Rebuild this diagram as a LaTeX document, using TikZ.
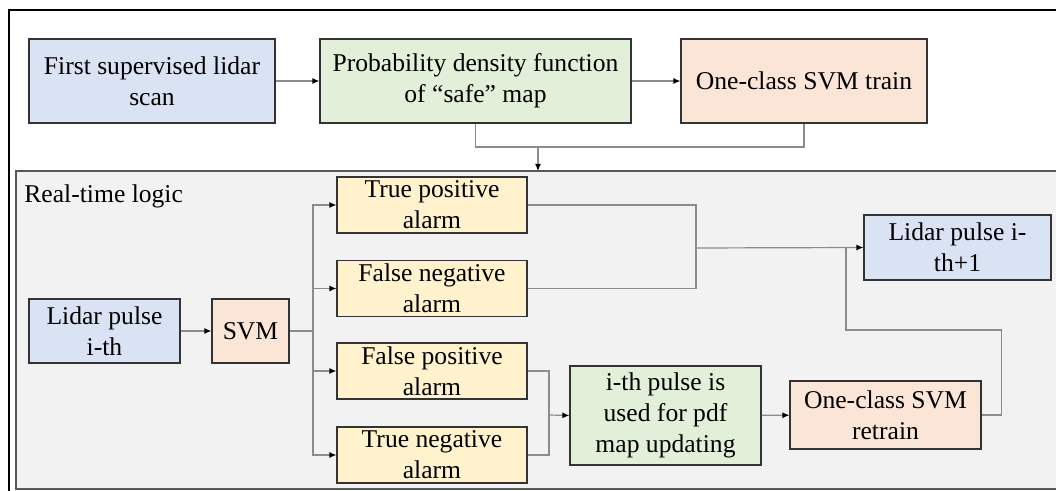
\documentclass[tikz,border=0pt]{standalone}
\usepackage{fontspec}
\setmainfont{Liberation Serif}
\usetikzlibrary{arrows.meta}

\definecolor{boxblue}{HTML}{DAE3F3}
\definecolor{boxgreen}{HTML}{E2F0D9}
\definecolor{boxpeach}{HTML}{FBE5D6}
\definecolor{boxyellow}{HTML}{FFF2CC}
\definecolor{panelgray}{HTML}{F2F2F2}
\definecolor{wiregray}{HTML}{8C8C8C}

\tikzset{
  box/.style={draw=black!80, line width=0.6pt, align=center, inner sep=1pt,
    font=\fontsize{12.8}{15.5}\selectfont},
  wire/.style={draw=wiregray, line width=0.6pt},
  arr/.style={wire, -{Latex[length=3.5pt,width=3pt,color=black]}}
}

\begin{document}
\begin{tikzpicture}[x=0.5pt,y=-0.5pt]
	\clip (0,0) rectangle (1056,491);
	\fill[white] (0,0) rectangle (1056,491);
	% outer frame and the real-time panel
	\draw[black, line width=0.7pt] (9,10) rectangle (1080,510);
	\draw[fill=panelgray, draw=black!65, line width=0.7pt] (16,171) rectangle (1080,489);
	\node[anchor=west, font=\fontsize{12.8}{15.5}\selectfont, inner sep=0pt] (lbl) at (24,196) {Real-time logic};

	% offline training
	\node[box, fill=boxblue, minimum width=123pt, minimum height=42pt] (scan) at (152,81) {First supervised lidar\\scan};
	\node[box, fill=boxgreen, minimum width=155.5pt, minimum height=42pt] (pdf) at (475.5,81) {Probability density function\\of ``safe'' map};
	\node[box, fill=boxpeach, minimum width=123pt, minimum height=42pt] (train) at (804,81) {One-class SVM train};

	% real-time boxes
	\node[box, fill=boxblue, minimum width=75.5pt, minimum height=32pt] (pulse) at (104.5,331) {Lidar pulse\\i-th};
	\node[box, fill=boxpeach, minimum width=38.5pt, minimum height=32pt] (svm) at (250.5,331) {SVM};
	\node[box, fill=boxyellow, minimum width=95pt, minimum height=28pt] (tp) at (432,205) {True positive\\alarm};
	\node[box, fill=boxyellow, minimum width=95pt, minimum height=28pt] (fn) at (432,288.5) {False negative\\alarm};
	\node[box, fill=boxyellow, minimum width=95pt, minimum height=28pt] (fp) at (432,371) {False positive\\alarm};
	\node[box, fill=boxyellow, minimum width=95pt, minimum height=28pt] (tn) at (432,455) {True negative\\alarm};
	\node[box, fill=boxblue, minimum width=93.5pt, minimum height=32.5pt] (next) at (957.5,247.5) {Lidar pulse i-\\th+1};
	\node[box, fill=boxgreen, minimum width=95.5pt, minimum height=49.5pt] (update) at (665.5,415.5) {i-th pulse is\\used for pdf\\map updating};
	\node[box, fill=boxpeach, minimum width=95.5pt, minimum height=34pt] (retrain) at (885.5,415) {One-class SVM\\retrain};

	% join points
	\coordinate (join) at (538,147);
	\coordinate (rt) at (538,171);
	\coordinate (split) at (313,331);
	\coordinate (m1) at (696,248);
	\coordinate (m2) at (549,415);
	\coordinate (fb) at (846,248);
	\coordinate (loop) at (846,330);

	% connectors
	\draw[arr] (scan) -- (pdf);
	\draw[arr] (pdf) -- (train);
	\draw[wire] (pdf.south) |- (join) -| (train.south);
	\draw[arr] (join) -- (rt);

	\draw[arr] (pulse) -- (svm);
	\draw[wire] (svm.east) -- (split);
	\foreach \b in {tp,fn,fp,tn}
		\draw[arr] (split) |- (\b.west);

	\draw[wire] (tp.east) -| (m1);
	\draw[wire] (fn.east) -| (m1);
	\draw[arr] (m1) -- (next.west);

	\draw[wire] (fp.east) -| (m2);
	\draw[wire] (tn.east) -| (m2);
	\draw[arr] (m2) -- (update.west);
	\draw[arr] (update) -- (retrain);

	\draw[wire] (retrain.east) -- ++(20,0) |- (loop) -- (fb);
\end{tikzpicture}
\end{document}
